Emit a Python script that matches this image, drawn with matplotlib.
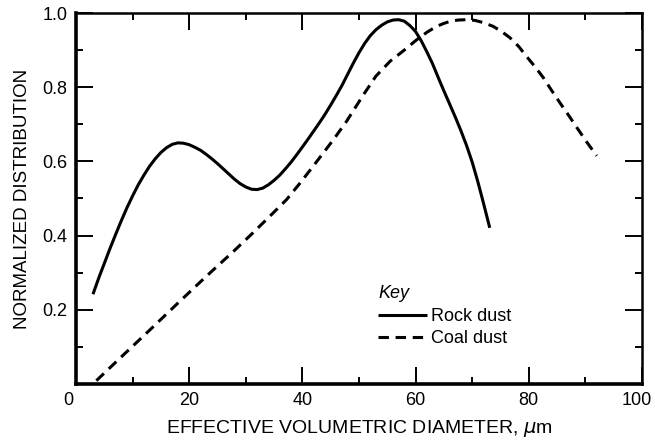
import matplotlib
matplotlib.use("Agg")
import matplotlib.pyplot as plt
import matplotlib.transforms as mtrans
from matplotlib.ticker import MultipleLocator

# values
rock_x = [3.0, 4.0, 5.0, 6.0, 7.0, 8.0, 9.0, 10.0, 11.0, 12.0, 13.0, 14.0,
          15.0, 16.0, 17.0, 18.0, 19.0, 20.0, 21.0, 22.0, 23.0, 24.0, 25.0,
          26.0, 27.0, 28.0, 29.0, 30.0, 31.0, 32.0, 33.0, 34.0, 35.0, 36.0,
          37.0, 38.0, 39.0, 40.0, 41.0, 42.0, 43.0, 44.0, 45.0, 46.0, 47.0,
          48.0, 49.0, 50.0, 51.0, 52.0, 53.0, 54.0, 55.0, 56.0, 57.0, 58.0,
          59.0, 60.0, 61.0, 62.0, 63.0, 64.0, 65.0, 66.0, 67.0, 68.0, 69.0,
          70.0, 71.0, 72.0, 73.1]
rock_y = [0.242, 0.285, 0.325, 0.365, 0.403, 0.44, 0.475, 0.507, 0.537, 0.563,
          0.587, 0.607, 0.624, 0.637, 0.646, 0.65, 0.649, 0.645, 0.638, 0.63,
          0.619, 0.607, 0.594, 0.58, 0.566, 0.552, 0.54, 0.531, 0.525, 0.524,
          0.528, 0.537, 0.549, 0.563, 0.58, 0.598, 0.618, 0.639, 0.66, 0.682,
          0.704, 0.727, 0.752, 0.778, 0.805, 0.835, 0.865, 0.893, 0.918, 0.939,
          0.955, 0.967, 0.976, 0.981, 0.982, 0.978, 0.966, 0.95, 0.925, 0.895,
          0.863, 0.826, 0.79, 0.755, 0.72, 0.683, 0.643, 0.598, 0.545, 0.487,
          0.421]

coal_x = [3.6, 8.0, 13.0, 18.0, 23.0, 28.0, 31.3, 34.5, 37.2, 39.5, 41.9,
          43.8, 45.5, 47.8, 50.8, 53.0, 55.5, 58.0, 60.2, 62.0, 63.7, 65.0,
          66.0, 67.5, 69.0, 70.5, 72.0, 73.7, 75.2, 76.7, 78.2, 79.6, 81.1,
          82.6, 84.0, 85.5, 87.0, 88.5, 90.2, 92.0]
coal_y = [0.009, 0.073, 0.145, 0.218, 0.29, 0.36, 0.408, 0.456, 0.497, 0.54,
          0.587, 0.625, 0.659, 0.708, 0.78, 0.83, 0.87, 0.90, 0.928, 0.948,
          0.964, 0.972, 0.977, 0.981, 0.982, 0.98, 0.974, 0.964, 0.95, 0.933,
          0.91, 0.883, 0.855, 0.825, 0.792, 0.758, 0.725, 0.691, 0.653, 0.615]

x_ticks = [0, 20, 40, 60, 80, 100]
y_ticks = [0.2, 0.4, 0.6, 0.8, 1.0]

plt.rcParams['font.family'] = ['Liberation Sans', 'DejaVu Sans']

fig = plt.figure(figsize=(6.55, 4.4), dpi=100)
ax = fig.add_axes([76 / 655, 56 / 440, 566 / 655, 371 / 440])

ax.plot(rock_x, rock_y, color='black', lw=2.2, label='Rock dust',
        solid_capstyle='butt', solid_joinstyle='round')
ax.plot(coal_x, coal_y, color='black', lw=2.2, dashes=(3.4, 2.2),
        label='Coal dust')

ax.set_xlim(0, 100)
ax.set_ylim(0, 1.0)
ax.set_xticks(x_ticks)
ax.set_yticks(y_ticks)
ax.set_yticklabels(['%.1f' % v for v in y_ticks])
ax.xaxis.set_minor_locator(MultipleLocator(10))
ax.yaxis.set_minor_locator(MultipleLocator(0.1))
ax.tick_params(which='both', direction='in', top=True, right=True,
               labelsize=13, width=1.4, colors='black')
ax.tick_params(which='major', length=12, pad=6)
ax.tick_params(which='minor', length=5)

# first and last x labels sit a little left in the reference
xlabels = ax.get_xticklabels()
xlabels[0].set_transform(xlabels[0].get_transform() +
                         mtrans.ScaledTranslation(-8 / 100, 0, fig.dpi_scale_trans))
xlabels[-1].set_transform(xlabels[-1].get_transform() +
                          mtrans.ScaledTranslation(-5 / 100, 0, fig.dpi_scale_trans))

for side in ['left', 'bottom']:
    ax.spines[side].set_linewidth(2.6)
for side in ['top', 'right']:
    ax.spines[side].set_linewidth(1.8)

ax.set_xlabel('EFFECTIVE VOLUMETRIC DIAMETER, $\\mu$m', fontsize=14,
              labelpad=6)
ax.set_ylabel('NORMALIZED DISTRIBUTION', fontsize=13.5, labelpad=8)

leg = ax.legend(loc='upper left', bbox_to_anchor=(0.518, 0.29),
                frameon=False, title='Key', alignment='left', fontsize=13,
                handlelength=2.7, handletextpad=0.2, borderpad=0,
                labelspacing=0.3)
leg.get_title().set_fontstyle('italic')
leg.get_title().set_fontsize(13)

fig.savefig('out.png', dpi=100)
